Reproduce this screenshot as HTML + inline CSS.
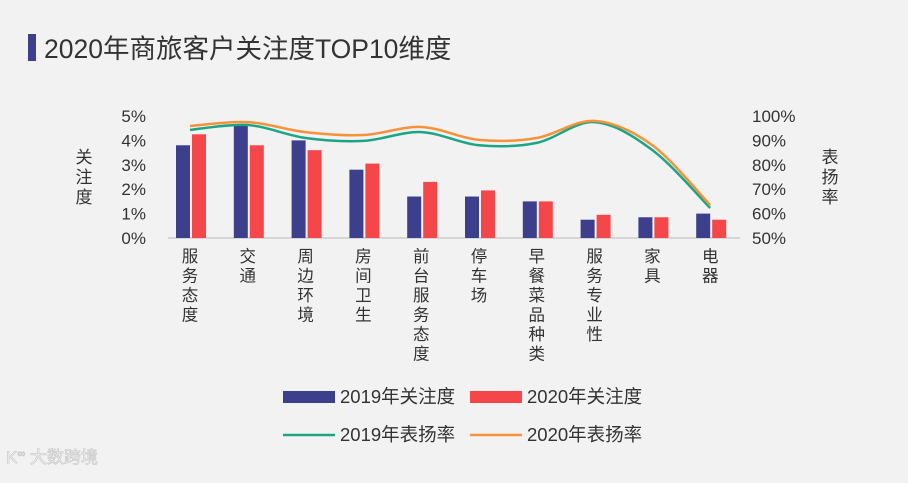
<!DOCTYPE html>
<html><head><meta charset="utf-8"><style>
body{margin:0;width:908px;height:478px;background:#f2f2f2;overflow:hidden;font-family:"Liberation Sans","Noto Sans CJK SC",sans-serif}
svg text{font-family:"Liberation Sans","Noto Sans CJK SC",sans-serif}
</style></head><body>
<svg id="c" width="908" height="478">
<rect x="28" y="34" width="8" height="27" fill="#3b3f8c"/>
<text x="44" y="58" font-size="26.5" fill="#333">2020年商旅客户关注度TOP10维度</text>
<g id="plot"></g>
<text x="6" y="463" font-size="17" fill="#fff" stroke="#ccc" stroke-width="0.8">K<tspan font-size="11" dy="-6">∞</tspan><tspan dy="6"> 大数跨境</tspan></text>
</svg>
<script>
const categories=["服务态度","交通","周边环境","房间卫生","前台服务态度","停车场","早餐菜品种类","服务专业性","家具","电器"];
const att2019=[3.8,4.6,4.0,2.8,1.7,1.7,1.5,0.75,0.85,1.0];
const att2020=[4.25,3.8,3.6,3.05,2.3,1.95,1.5,0.95,0.85,0.75];
const rate2019=[94.3,96.3,91,89.8,93.4,88,89,97.5,86,62.3];
const rate2020=[95.9,97.5,93.4,92.2,95.5,90.2,91,98,88,63.5];
const leftTicks=["0%","1%","2%","3%","4%","5%"];
const rightTicks=["50%","60%","70%","80%","90%","100%"];
const NS="http://www.w3.org/2000/svg";
const g=document.getElementById('plot');
const y0=238,pxPer=24.4;
const yL=v=>y0-v*pxPer;
const yR=v=>y0-(v-50)*pxPer/10*1;
const xC=i=>190+i*57.8;
function mk(t,a,p){const e=document.createElementNS(NS,t);for(const k in a)e.setAttribute(k,a[k]);(p||g).appendChild(e);return e;}
leftTicks.forEach((t,i)=>{const e=mk('text',{x:146,y:yL(i)+6,'font-size':17,fill:'#333','text-anchor':'end'});e.textContent=t;

});
rightTicks.forEach((t,i)=>{const e=mk('text',{x:752,y:y0-i*pxPer+6,'font-size':17,fill:'#333'});e.textContent=t;

});
["关","注","度"].forEach((c,i)=>{const e=mk('text',{x:84,y:163+i*20,'font-size':17,fill:'#333','text-anchor':'middle'});e.textContent=c;

});
["表","扬","率"].forEach((c,i)=>{const e=mk('text',{x:830,y:163+i*20,'font-size':17,fill:'#333','text-anchor':'middle'});e.textContent=c;

});
const ax=mk('line',{x1:168,x2:740,y1:y0,y2:y0,stroke:'#bbb','stroke-width':1});


categories.forEach((c,i)=>{
 const b1=mk('rect',{x:xC(i)-14,y:yL(att2019[i]),width:14,height:att2019[i]*pxPer,fill:'#3b3f8c'});
 
 
 const b2=mk('rect',{x:xC(i)+2,y:yL(att2020[i]),width:14,height:att2020[i]*pxPer,fill:'#f5474a'});
 
 
 [...c].forEach((ch,j)=>{const e=mk('text',{x:xC(i),y:262+j*19.5,'font-size':16.5,fill:'#333','text-anchor':'middle'});e.textContent=ch;
 
 });
});
function path(vals){const p=vals.map((v,i)=>[xC(i),yR(v)]);let d=`M${p[0][0]},${p[0][1]}`;
for(let i=0;i<p.length-1;i++){const a=p[i-1]||p[i],b=p[i],c=p[i+1],e=p[i+2]||c;
d+=` C${b[0]+(c[0]-a[0])/6},${b[1]+(c[1]-a[1])/6} ${c[0]-(e[0]-b[0])/6},${c[1]-(e[1]-b[1])/6} ${c[0]},${c[1]}`;}return d;}
const l1=mk('path',{d:path(rate2019),fill:'none',stroke:'#1aa587','stroke-width':2.5});


const l2=mk('path',{d:path(rate2020),fill:'none',stroke:'#f7923a','stroke-width':2.5});


const leg=[['rect','#3b3f8c',283,397,'2019年关注度'],['rect','#f5474a',470,397,'2020年关注度'],['line','#1aa587',283,435,'2019年表扬率'],['line','#f7923a',470,435,'2020年表扬率']];
leg.forEach(l=>{
 const m=l[0]==='rect'?mk('rect',{x:l[2],y:l[3]-6,width:52,height:12,fill:l[1]}):mk('line',{x1:l[2],x2:l[2]+52,y1:l[3],y2:l[3],stroke:l[1],'stroke-width':2.5});
 
 
 const t=mk('text',{x:l[2]+57,y:l[3]+6,'font-size':18.5,fill:'#333'});t.textContent=l[4];
 
 
});
</script>
</body></html>
